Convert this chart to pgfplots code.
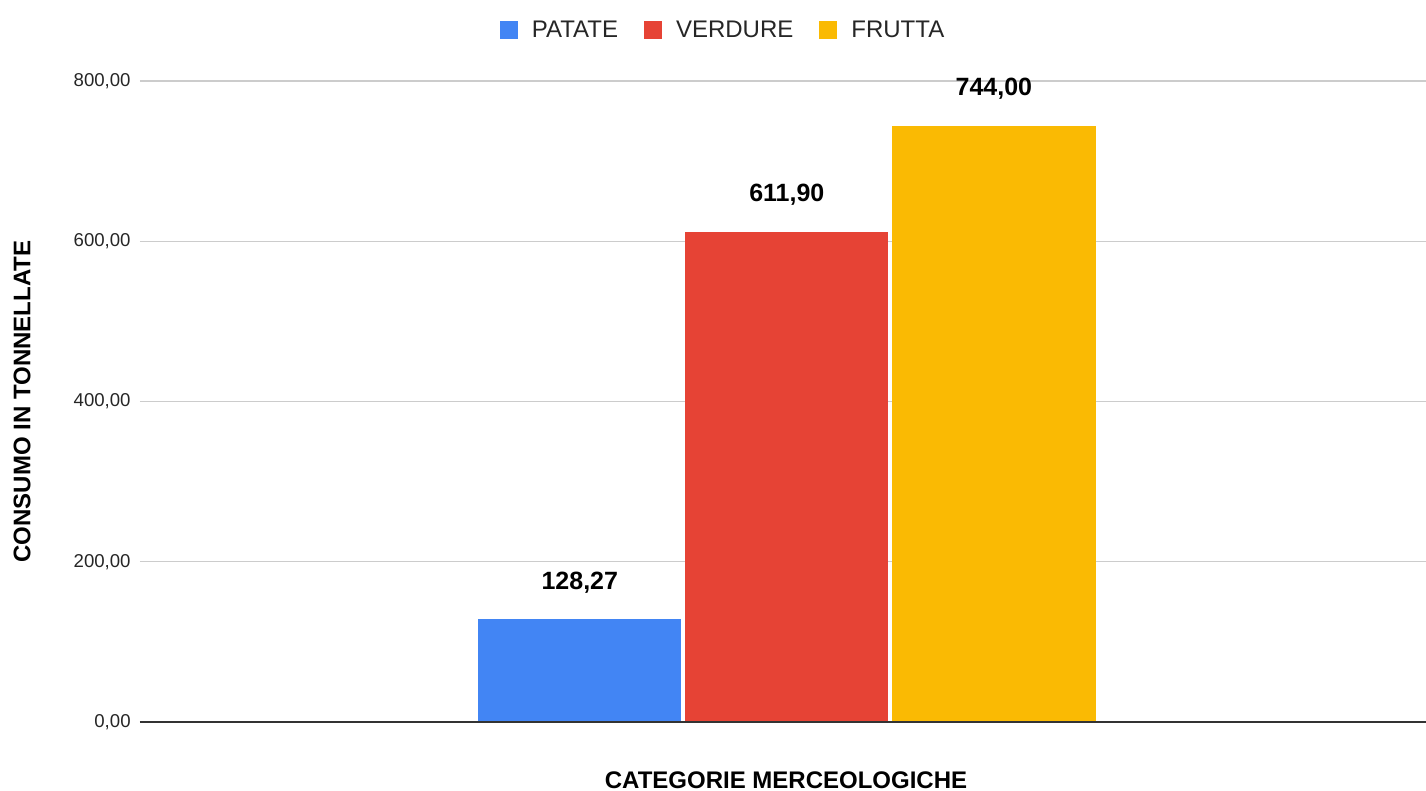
\documentclass[border=0pt]{standalone}
\usepackage{pgfplots}
\pgfplotsset{compat=1.18}
\usepackage{fontspec}
\setmainfont{Liberation Sans}
\definecolor{cblue}{HTML}{4285F4}
\definecolor{cred}{HTML}{E64335}
\definecolor{cyellow}{HTML}{FABA03}
\definecolor{cgrid}{HTML}{CCCCCC}
\definecolor{czero}{HTML}{333333}
\begin{document}
\begin{tikzpicture}
\begin{axis}[
  width=643pt, height=320.5pt, scale only axis,
  xmin=-0.5, xmax=0.5, ymin=0, ymax=800,
  clip=false,
  axis line style={draw=none},
  xtick=\empty,
  ytick={0,200,400,600,800},
  major tick length=0pt,
  ymajorgrids, grid style={draw=cgrid, line width=0.6pt},
  yticklabel style={font=\fontsize{9.3}{11}\selectfont, text=black!85, inner sep=0pt, xshift=-4.5pt,
    /pgf/number format/.cd, fixed, fixed zerofill, precision=2, use comma, 1000 sep={}, assume math mode=true},
  legend columns=-1,
  legend style={at={(rel axis cs:0.4526,1.079)}, anchor=center, draw=none, fill=none,
    font=\fontsize{12}{14}\selectfont, text=black!85,
    /tikz/every odd column/.style={column sep=7pt},
    /tikz/every even column/.style={column sep=13pt},
    nodes={inner sep=0pt}},
  nodes near coords style={font=\bfseries\fontsize{12.5}{15}\selectfont, anchor=base, inner sep=0pt, yshift=15pt},
]
\addplot[ybar, bar width=0.158, bar shift=0pt, fill=cblue, draw=none,
  nodes near coords={\pgfmathprintnumber[fixed,fixed zerofill,precision=2,use comma,1000 sep={},assume math mode=true]{\pgfplotspointmeta}},
  legend image code/.code={\fill[cblue] (0pt,-4.5pt) rectangle (9pt,4.5pt);}]
  coordinates {(-0.158,128.27)};
\addlegendentry{PATATE}
\addplot[ybar, bar width=0.158, bar shift=0pt, fill=cred, draw=none,
  nodes near coords={\pgfmathprintnumber[fixed,fixed zerofill,precision=2,use comma,1000 sep={},assume math mode=true]{\pgfplotspointmeta}},
  legend image code/.code={\fill[cred] (0pt,-4.5pt) rectangle (9pt,4.5pt);}]
  coordinates {(0.003,611.90)};
\addlegendentry{VERDURE}
\addplot[ybar, bar width=0.158, bar shift=0pt, fill=cyellow, draw=none,
  nodes near coords={\pgfmathprintnumber[fixed,fixed zerofill,precision=2,use comma,1000 sep={},assume math mode=true]{\pgfplotspointmeta}},
  legend image code/.code={\fill[cyellow] (0pt,-4.5pt) rectangle (9pt,4.5pt);}]
  coordinates {(0.164,744.00)};
\addlegendentry{FRUTTA}
\addplot[czero, line width=0.8pt, forget plot] coordinates {(-0.5,0) (0.5,0)};
\coordinate (sw) at (rel axis cs:0,0);
\coordinate (ne) at (rel axis cs:1,1);
\coordinate (west) at (rel axis cs:0,0.5);
\coordinate (south) at (rel axis cs:0.5,0);
\end{axis}
\node[rotate=90, font=\bfseries\fontsize{12}{14}\selectfont, inner sep=0pt] at ([xshift=-59pt]west) {CONSUMO IN TONNELLATE};
\node[font=\bfseries\fontsize{12}{14}\selectfont, inner sep=0pt] at ([xshift=1.5pt,yshift=-29pt]south) {CATEGORIE MERCEOLOGICHE};
\pgfresetboundingbox
\path[use as bounding box] ([xshift=-70pt,yshift=-34.5pt]sw) rectangle ([yshift=40.5pt]ne);
\end{tikzpicture}
\end{document}
